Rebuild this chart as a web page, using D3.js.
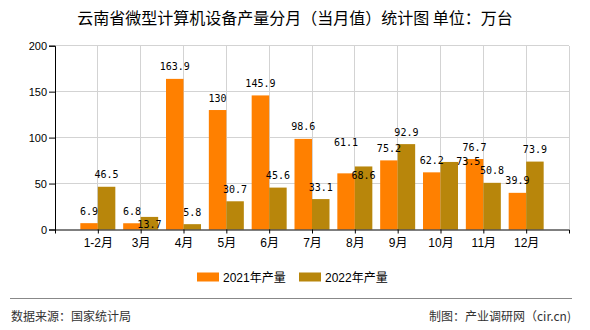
<!DOCTYPE html>
<html><head><meta charset="utf-8">
<script src="https://cdn.jsdelivr.net/npm/d3@7"></script>
<style>body{margin:0;background:#fff}svg{display:block}</style>
</head><body><svg id="c" width="590" height="330"></svg>
<script>
const categories = ["1-2月","3月","4月","5月","6月","7月","8月","9月","10月","11月","12月"];
const values2021 = [6.9, 6.8, 163.9, 130, 145.9, 98.6, 61.1, 75.2, 62.2, 76.7, 39.9];
const values2022 = [46.5, 13.7, 5.8, 30.7, 45.6, 33.1, 68.6, 92.9, 73.5, 50.8, 73.9];
const seriesNames = ["2021年产量", "2022年产量"];
const yTicks = [0, 50, 100, 150, 200];

// label nudges (layout only) to match overlapping-label placement of the original
const nudge2021 = {6: [0, -19]};
const nudge2022 = {1: [0, 20], 6: [0, 21.5], 8: [19, 12]};

const colors = ["#FF8000", "#B8860B"];
const svg = d3.select("#c");
const pLeft = 55, pRight = 569, pTop = 45.7, pBottom = 229.5;

const x = d3.scalePoint().domain(categories).range([pLeft, pRight]).padding(1);
const y = d3.scaleLinear().domain([0, 200]).range([pBottom, pTop]);
const bw = 17.5;

// title
svg.append("text").attr("x", 295).attr("y", 24).attr("text-anchor", "middle")
  .attr("font-family", "'Noto Sans CJK SC', sans-serif").attr("font-size", 16).attr("fill", "#000")
  .text("云南省微型计算机设备产量分月（当月值）统计图 单位：万台");

// grid
const g = svg.append("g");
g.selectAll("line.h").data(yTicks.filter(d => d > 0)).join("line")
  .attr("x1", pLeft).attr("x2", pRight).attr("y1", d => y(d)).attr("y2", d => y(d))
  .attr("stroke", "#d3d3d3").attr("stroke-width", 1).attr("shape-rendering", "crispEdges");
g.selectAll("line.v").data(categories.map(c => x(c)).concat([pRight])).join("line")
  .attr("x1", d => d).attr("x2", d => d).attr("y1", pTop).attr("y2", pBottom)
  .attr("stroke", "#d3d3d3").attr("stroke-width", 1).attr("shape-rendering", "crispEdges");

// bars
const all = [values2021, values2022];
all.forEach((vals, s) => {
  svg.append("g").selectAll("rect").data(vals).join("rect")
    .attr("x", (d, i) => x(categories[i]) + (s === 0 ? -bw : 0))
    .attr("y", d => y(d)).attr("width", bw).attr("height", d => y(0) - y(d))
    .attr("fill", colors[s]);
});

// axes
const yAxis = d3.axisLeft(y).tickValues(yTicks).tickSize(6).tickPadding(2);
const ya = svg.append("g").attr("transform", `translate(${pLeft},0)`).call(yAxis);
ya.select(".domain").attr("stroke", "#000");
ya.selectAll("text").attr("font-family", "Arial, 'Liberation Sans', sans-serif").attr("font-size", 11).attr("fill", "#000");

const xAxis = d3.axisBottom(x).tickSize(4).tickSizeOuter(4).tickPadding(5);
const xa = svg.append("g").attr("transform", `translate(0,${pBottom})`).call(xAxis);
xa.select(".domain").attr("stroke", "#000");
xa.selectAll("text").attr("font-family", "'Liberation Sans', 'Noto Sans CJK SC', sans-serif").attr("font-size", 12).attr("fill", "#000");

// value labels
all.forEach((vals, s) => {
  const nd = s === 0 ? nudge2021 : nudge2022;
  svg.append("g").selectAll("text").data(vals).join("text")
    .attr("x", (d, i) => x(categories[i]) + (s === 0 ? -bw / 2 : bw / 2) + (nd[i] ? nd[i][0] : 0))
    .attr("y", (d, i) => y(d) - 8.5 + (nd[i] ? nd[i][1] : 0))
    .attr("text-anchor", "middle")
    .attr("font-family", "'DejaVu Sans Mono', 'Liberation Mono', monospace").attr("font-size", 10).attr("fill", "#000")
    .text(d => d);
});

// legend
const lx = [197, 299];
seriesNames.forEach((n, i) => {
  svg.append("rect").attr("x", lx[i]).attr("y", 272.5).attr("width", 22).attr("height", 9).attr("fill", colors[i]);
  svg.append("text").attr("x", lx[i] + 26).attr("y", 281.5)
    .attr("font-family", "'Liberation Sans', 'Noto Sans CJK SC', sans-serif").attr("font-size", 12).attr("fill", "#000").text(n);
});

// footer
svg.append("line").attr("x1", 10).attr("x2", 572).attr("y1", 298.5).attr("y2", 298.5).attr("stroke", "#888").attr("stroke-width", 1);
svg.append("text").attr("x", 11).attr("y", 321).attr("font-family", "'Noto Sans CJK SC', sans-serif").attr("font-size", 12).attr("fill", "#333").text("数据来源：国家统计局");
svg.append("text").attr("x", 571).attr("y", 321).attr("text-anchor", "end").attr("font-family", "'Noto Sans CJK SC', sans-serif").attr("font-size", 12).attr("fill", "#333").text("制图：产业调研网（cir.cn)");
</script></body></html>
